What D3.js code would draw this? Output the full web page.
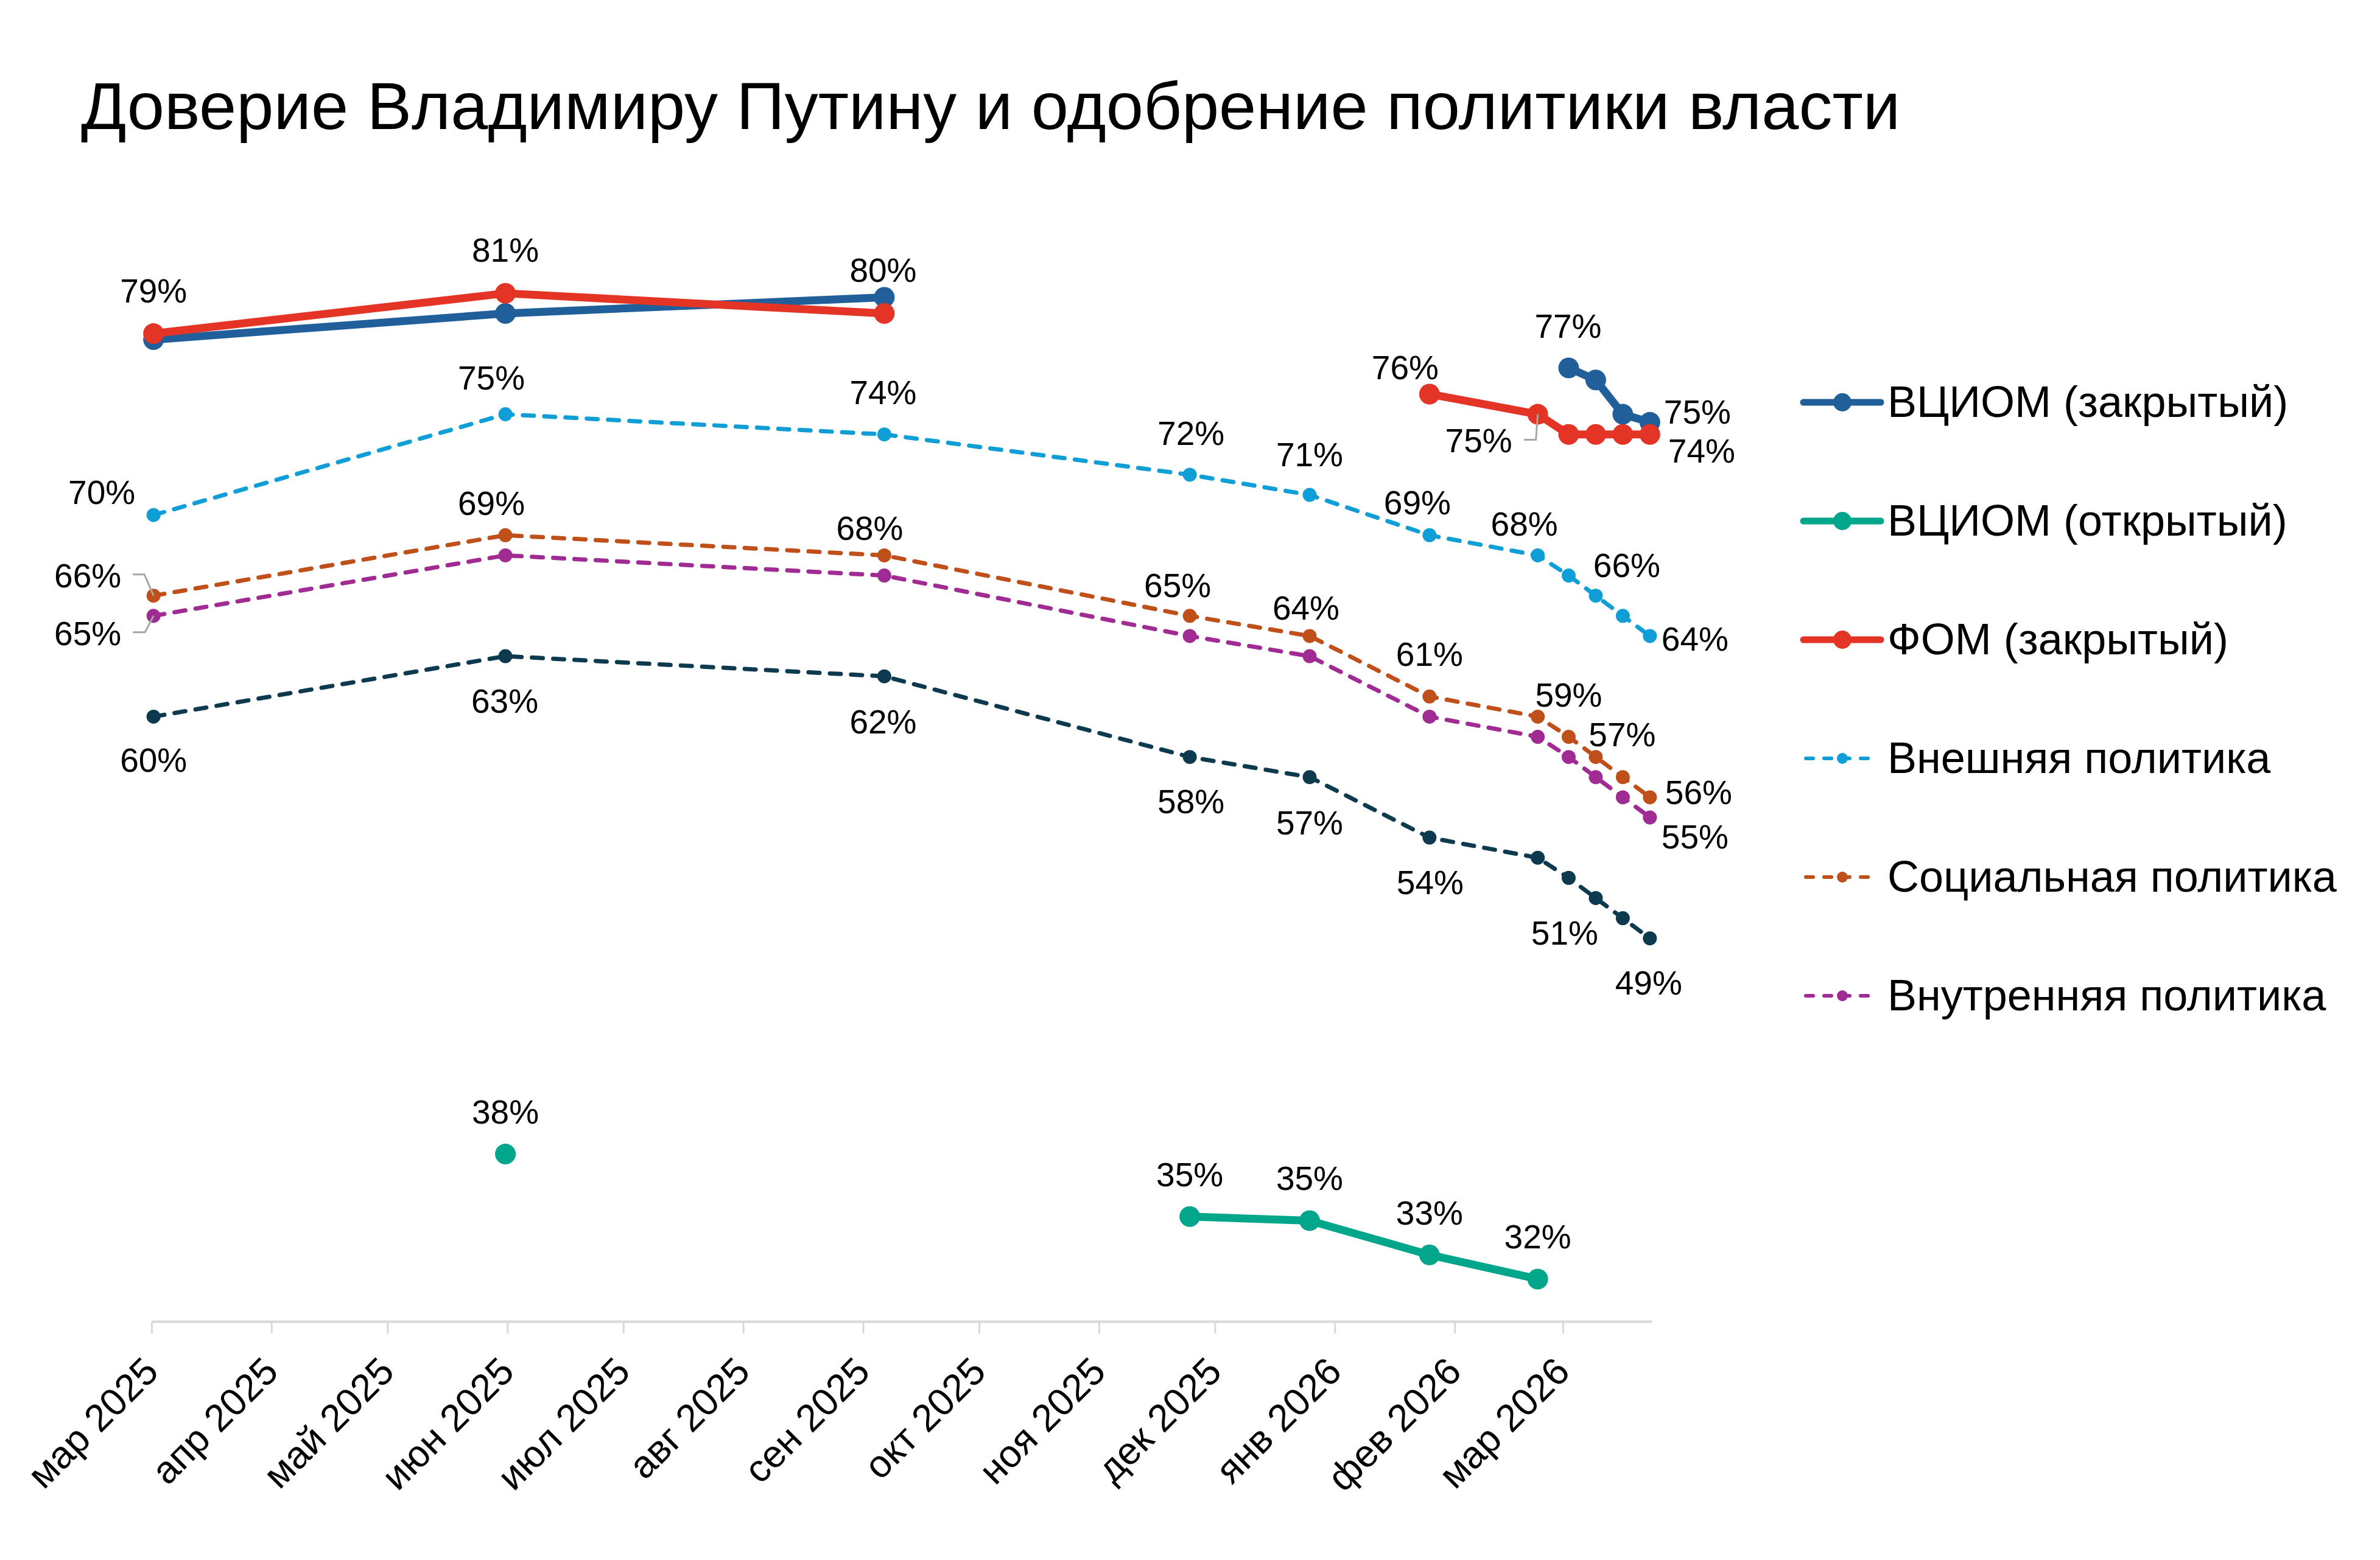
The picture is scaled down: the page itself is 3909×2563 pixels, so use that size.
<!DOCTYPE html>
<html>
<head>
<meta charset="utf-8">
<script src="https://cdn.jsdelivr.net/npm/d3@7"></script>
<style>
  body { margin: 0; background: #fff; }
  text { font-family: "Liberation Sans", Arial, sans-serif; fill: #000; }
</style>
</head>
<body>
<div id="viz"></div>
<script>
// survey dates (shared by all series)
const dates = ["2025-03-01", "2025-05-31", "2025-09-06", "2025-11-24", "2025-12-25",
               "2026-01-25", "2026-02-22", "2026-03-02", "2026-03-09", "2026-03-16", "2026-03-23"];

// values, % (null = no survey)
const vciomClosed = [78.7, 80.0, 80.8, null, null, null, null, 77.3, 76.7, 75.0, 74.6];
const vciomOpen   = [null, 38.3, null, 35.2, 35.0, 33.3, 32.1, null, null, null, null];
const fomClosed   = [79.0, 81.0, 80.0, null, null, 76.0, 75.0, 74.0, 74.0, 74.0, 74.0];
const foreignPol  = [70, 75, 74, 72, 71, 69, 68, 67, 66, 65, 64];
const socialPol   = [66, 69, 68, 65, 64, 61, 60, 59, 58, 57, 56];
const domesticPol = [65, 68, 67, 64, 63, 60, 59, 58, 57, 56, 55];
const unnamedPol  = [60, 63, 62, 58, 57, 54, 53, 52, 51, 50, 49];

const monthNames = ["янв", "фев", "мар", "апр", "май", "июн", "июл", "авг", "сен", "окт", "ноя", "дек"];
const title = "Доверие Владимиру Путину и одобрение политики власти";

const CONST = {
    width: 3909, height: 2563,
    axisY: 2171, axisX0: 249, axisX1: 2713,
    pxPerPct: 33.12,
    labelSize: 55, tickSize: 63, legendSize: 72, titleSize: 110
};

// series styling, drawing order
const SERIES = [
    { key: "ext",  name: "Внешняя политика",     data: foreignPol,  color: "#0f9ed5", dashed: true,  legend: true },
    { key: "soc",  name: "Социальная политика",  data: socialPol,   color: "#c0501a", dashed: true,  legend: true },
    { key: "int",  name: "Внутренняя политика",  data: domesticPol, color: "#a02b93", dashed: true,  legend: true },
    { key: "nav",  name: "",                     data: unnamedPol,  color: "#0e3a4f", dashed: true,  legend: false },
    { key: "vcC",  name: "ВЦИОМ (закрытый)",     data: vciomClosed, color: "#205f9a", dashed: false, legend: true },
    { key: "vcO",  name: "ВЦИОМ (открытый)",     data: vciomOpen,   color: "#02a68a", dashed: false, legend: true },
    { key: "fom",  name: "ФОМ (закрытый)",       data: fomClosed,   color: "#e43426", dashed: false, legend: true }
]
const LEGEND_ORDER = ["vcC", "vcO", "fom", "ext", "soc", "int"];

// label placement: series, point index, anchor, offset of anchor point / baseline
const LABELS = [
    ["fom", 0, "middle", 0, -51], ["fom", 1, "middle", 0, -52], ["fom", 2, "middle", -2, -52],
    ["fom", 5, "middle", -40, -24], ["fom", 6, "end", -42, 62, [[-3, 42], [-23, 42]]], ["fom", 10, "start", 30, 46],
    ["vcC", 7, "middle", -1, -49], ["vcC", 10, "start", 23, 2],
    ["vcO", 1, "middle", 0, -50], ["vcO", 3, "middle", 0, -50], ["vcO", 4, "middle", 0, -50],
    ["vcO", 5, "middle", 0, -50], ["vcO", 6, "middle", 0, -50],
    ["ext", 0, "end", -30, -18], ["ext", 1, "middle", -23, -41], ["ext", 2, "middle", -2, -50],
    ["ext", 3, "middle", 2, -49], ["ext", 4, "middle", 0, -47], ["ext", 5, "middle", -20, -34],
    ["ext", 6, "middle", -22, -32], ["ext", 8, "middle", 51, -31], ["ext", 10, "start", 19, 24],
    ["soc", 0, "end", -53, -14, [[-15, -35], [-34, -35]]], ["soc", 1, "middle", -23, -33],
    ["soc", 2, "middle", -24, -25], ["soc", 3, "middle", -20, -31], ["soc", 4, "middle", -6, -27],
    ["soc", 5, "middle", 0, -50], ["soc", 7, "middle", 0, -50], ["soc", 9, "middle", -1, -51],
    ["soc", 10, "start", 25, 11],
    ["int", 0, "end", -53, 48, [[-14, 27], [-34, 27]]], ["int", 10, "start", 19, 51],
    ["nav", 0, "middle", 0, 91], ["nav", 1, "middle", -1, 93], ["nav", 2, "middle", -2, 94],
    ["nav", 3, "middle", 2, 92], ["nav", 4, "middle", 0, 94], ["nav", 5, "middle", 1, 93],
    ["nav", 8, "middle", -51, 77], ["nav", 10, "middle", -2, 92]
];

const svg = d3.select("#viz").append("svg")
    .attr("width", CONST.width)
    .attr("height", CONST.height);
svg.append("rect").attr("width", CONST.width).attr("height", CONST.height).attr("fill", "#fff");

svg.append("text").text(title)
    .attr("x", 133).attr("y", 212)
    .style("font-size", CONST.titleSize + "px");

const parse = d3.utcParse("%Y-%m-%d");
const xDates = dates.map(parse);

// date axis, points sit in the middle of their day
const x = d3.scaleUtc()
    .domain([parse("2025-03-01"), parse("2026-03-24")])
    .range([CONST.axisX0, CONST.axisX1]);
const y = d3.scaleLinear()
    .domain([30, 85])
    .range([CONST.axisY, CONST.axisY - 55 * CONST.pxPerPct]);
const px = i => x(d3.utcHour.offset(xDates[i], 12));

const xAxis = svg.append("g")
    .attr("transform", `translate(0,${CONST.axisY})`)
    .call(d3.axisBottom(x)
        .ticks(d3.utcMonth.every(1))
        .tickSize(20)
        .tickSizeOuter(0)
        .tickFormat(d => `${monthNames[d.getUTCMonth()]} ${d.getUTCFullYear()}`));
xAxis.attr("font-family", null).attr("font-size", null);
xAxis.select(".domain").attr("stroke", "#d9d9d9").attr("stroke-width", 4);
xAxis.selectAll(".tick line").attr("stroke", "#d9d9d9").attr("stroke-width", 3);
xAxis.selectAll(".tick text")
    .attr("x", 14).attr("y", 86).attr("dy", null)
    .attr("text-anchor", "end")
    .attr("transform", "rotate(-45,14,86)")
    .attr("fill", "#000")
    .style("font-size", CONST.tickSize + "px");

const line = d3.line()
    .defined(d => d.v != null)
    .x(d => d.x)
    .y(d => y(d.v));

const pts = s => s.data.map((v, i) => ({ x: px(i), v: v, i: i }));
const byKey = {};
SERIES.forEach(s => byKey[s.key] = s);

const gLines = svg.append("g");
SERIES.forEach(s => {
    const g = gLines.append("g");
    g.append("path")
        .attr("d", line(pts(s)))
        .attr("fill", "none")
        .attr("stroke", s.color)
        .attr("stroke-width", s.dashed ? 7 : 13)
        .attr("stroke-linecap", "round")
        .attr("stroke-linejoin", "round")
        .attr("stroke-dasharray", s.dashed ? "18,17" : null);
    g.selectAll("circle")
        .data(pts(s).filter(d => d.v != null))
        .join("circle")
        .attr("cx", d => d.x)
        .attr("cy", d => y(d.v))
        .attr("r", s.dashed ? 11.5 : 17)
        .attr("fill", s.color);
});

// data labels (and their leader lines)
const gLabels = svg.append("g");
LABELS.forEach(([key, i, anchor, dx, dy, leader]) => {
    const s = byKey[key];
    const cx = px(i), cy = y(s.data[i]);
    if (leader) {
        const p = [[cx, cy]].concat(leader.map(([a, b]) => [cx + a, cy + b]));
        gLabels.append("path")
            .attr("d", d3.line()(p))
            .attr("fill", "none")
            .attr("stroke", "#a6a6a6")
            .attr("stroke-width", 3);
    }
    gLabels.append("text")
        .text(`${d3.format(".0f")(s.data[i])}%`)
        .attr("x", cx + dx)
        .attr("y", cy + dy)
        .attr("text-anchor", anchor)
        .style("font-size", CONST.labelSize + "px");
});

// legend
const gLegend = svg.append("g");
LEGEND_ORDER.forEach((key, r) => {
    const s = byKey[key];
    const cy = 661 + r * 195;
    const row = gLegend.append("g");
    row.append("line")
        .attr("x1", s.dashed ? 2966 : 2962).attr("x2", s.dashed ? 3085 : 3089)
        .attr("y1", cy).attr("y2", cy)
        .attr("stroke", s.color)
        .attr("stroke-width", s.dashed ? 6 : 11)
        .attr("stroke-linecap", "round")
        .attr("stroke-dasharray", s.dashed ? "12,18" : null);
    row.append("circle")
        .attr("cx", 3026).attr("cy", cy)
        .attr("r", s.dashed ? 9 : 15)
        .attr("fill", s.color);
    row.append("text").text(s.name)
        .attr("x", 3100).attr("y", cy + 24)
        .style("font-size", CONST.legendSize + "px");
});
</script>
</body>
</html>
